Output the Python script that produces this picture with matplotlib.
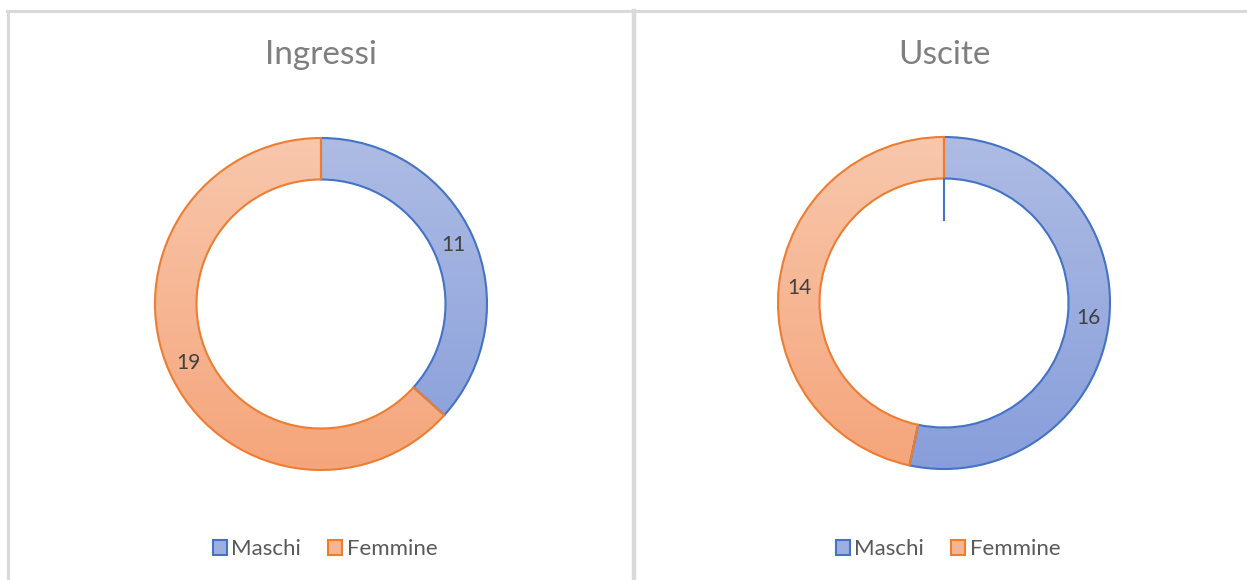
import matplotlib
matplotlib.use("Agg")
import matplotlib.pyplot as plt
from matplotlib.colors import LinearSegmentedColormap
from matplotlib.patches import Patch
from matplotlib.lines import Line2D
import numpy as np

# Data
categories = ["Maschi", "Femmine"]
titles = ["Ingressi", "Uscite"]
ingressi = [11, 19]
uscite = [16, 14]
series = [ingressi, uscite]

# Styles
edge_colors = ["#4472C4", "#ED7D31"]
grad_top = ["#AEBCE4", "#F8C7AC"]
grad_bottom = ["#889EDB", "#F5A57B"]
legend_fill = ["#9DAEE0", "#F6B592"]
border_col = "#D9D9D9"

W, H = 1247, 580
DPI = 100
fig = plt.figure(figsize=(W / DPI, H / DPI), dpi=DPI)
fig.patch.set_facecolor("white")

plt.rcParams["font.family"] = ["Lato", "DejaVu Sans"]

# Panel borders
fig.add_artist(Line2D([7 / W, 1.0], [1 - 10.5 / H, 1 - 10.5 / H], color=border_col, lw=2.2))
fig.add_artist(Line2D([7.5 / W, 7.5 / W], [0, 1 - 10.5 / H], color=border_col, lw=2.2))
fig.add_artist(Line2D([634 / W, 634 / W], [0, 1 - 10.5 / H], color=border_col, lw=3.2))

centers = [(321, 304), (944, 303)]
R = 166
ring_width = 0.25

for k, (cx, cy) in enumerate(centers):
    ax = fig.add_axes([(cx - R) / W, 1 - (cy + R) / H, 2 * R / W, 2 * R / H])

    vals = series[k]
    wedges, _ = ax.pie(vals, radius=1, startangle=90, counterclock=False,
                       wedgeprops=dict(width=ring_width, linewidth=1.5),
                       colors=["none", "none"])
    ax.set_xlim(-1, 1)
    ax.set_ylim(-1, 1)
    ax.set_aspect("equal")
    ax.axis("off")

    for i, w in enumerate(wedges):
        w.set_edgecolor(edge_colors[i])
        w.set_facecolor("none")
        w.set_zorder(3)
        w.set_clip_on(False)
        cmap = LinearSegmentedColormap.from_list("g%d" % i, [grad_top[i], grad_bottom[i]])
        grad = np.linspace(0, 1, 256).reshape(-1, 1)
        im = ax.imshow(grad, cmap=cmap, extent=(-1, 1, -1, 1), origin="upper",
                       aspect="auto", zorder=2)
        im.set_clip_path(w)

        # value label at the middle of the ring
        mid = np.deg2rad((w.theta1 + w.theta2) / 2)
        rr = 1 - ring_width / 2
        ax.text(rr * np.cos(mid), rr * np.sin(mid), str(vals[i]),
                ha="center", va="center", fontsize=15, color="#404040", zorder=4)

    ax.set_xlim(-1, 1)
    ax.set_ylim(-1, 1)

    if k == 1:
        # short spoke at the start of the first segment
        a0 = np.deg2rad(wedges[0].theta2)
        r_in = 1 - ring_width
        ax.plot([r_in * np.cos(a0), (r_in - ring_width) * np.cos(a0)],
                [r_in * np.sin(a0), (r_in - ring_width) * np.sin(a0)],
                color=edge_colors[0], lw=1.5, zorder=3)

    # title
    fig.text(cx / W, 1 - 55 / H, titles[k], ha="center", va="center",
             fontsize=24, color="#7F7F7F")

    # legend
    handles = [Patch(facecolor=legend_fill[i], edgecolor=edge_colors[i], lw=1.5,
                     label=categories[i]) for i in range(2)]
    fig.legend(handles=handles, loc="center", bbox_to_anchor=((cx + 4) / W, 1 - 549 / H),
               ncol=2, frameon=False, fontsize=16, labelcolor="#595959",
               handlelength=0.65, handleheight=0.65, handletextpad=0.2,
               columnspacing=1.2)

fig.savefig("out.png", dpi=DPI, facecolor="white")
